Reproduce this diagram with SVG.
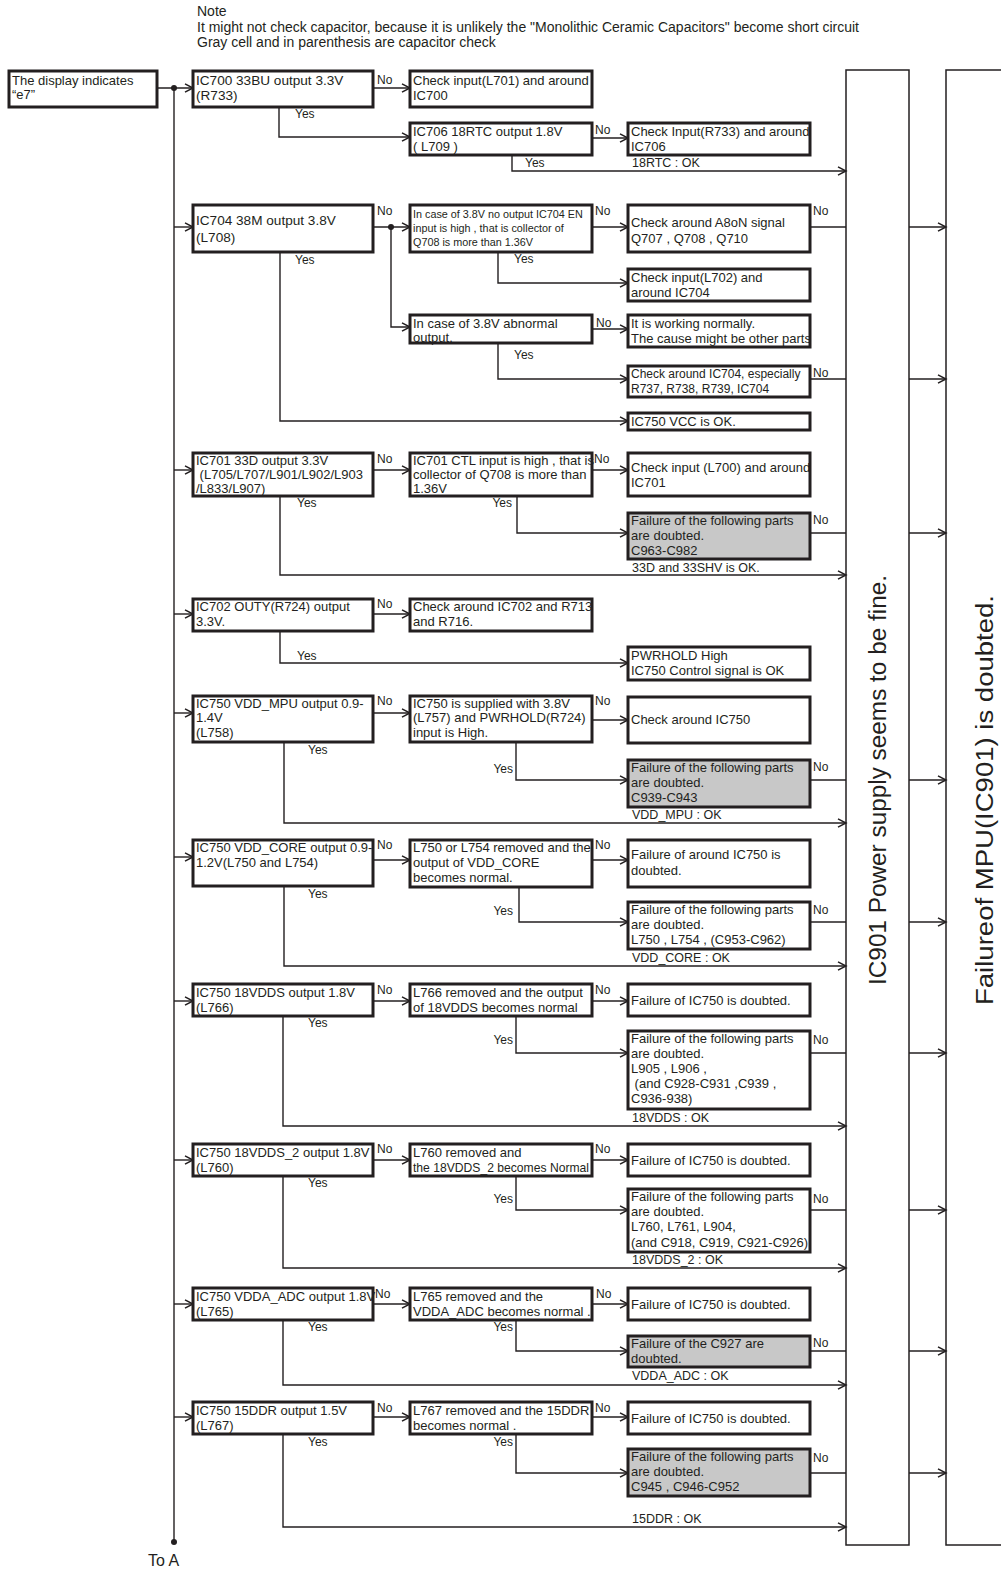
<svg xmlns="http://www.w3.org/2000/svg" width="1001" height="1570" viewBox="0 0 1001 1570">
<defs>
<style>
text{font-family:"Liberation Sans",Arial,sans-serif;fill:#231f20}
.t{font-size:13px}
.s{font-size:10.8px}
.l{font-size:12px}
.ok{font-size:12.5px}
.nt{font-size:14px}
.n{fill:#fff;stroke:#231f20;stroke-width:3}
.g{fill:#c8c8c8;stroke:#231f20;stroke-width:3}
.big{fill:#fff;stroke:#231f20;stroke-width:1.5}
.c{fill:none;stroke:#231f20;stroke-width:1.4}
.a{fill:none;stroke:#231f20;stroke-width:1.4;marker-end:url(#ah)}
.r{font-size:23px}
</style>
<marker id="ah" markerWidth="11" markerHeight="11" refX="9" refY="5" orient="auto" markerUnits="userSpaceOnUse">
<path d="M1,0.8 L9,5 L1,9.2" fill="none" stroke="#231f20" stroke-width="1.5"/>
</marker>
</defs>
<rect width="1001" height="1570" fill="#fff"/>

<g id="note">
<text class="nt" x="197" y="16">Note</text>
<text class="nt" x="197" y="32">It might not check capacitor, because it is unlikely the "Monolithic Ceramic Capacitors" become short circuit</text>
<text class="nt" x="197" y="47">Gray cell and in parenthesis are capacitor check</text>
</g>

<g id="bigbox1">
<rect class="big" x="846" y="70" width="63" height="1475"/>
<text class="r" transform="translate(886,985) rotate(-90)" textLength="410" lengthAdjust="spacingAndGlyphs">IC901  Power supply seems to be fine.</text>
</g>
<g id="bigbox2">
<rect class="big" x="946" y="70" width="60" height="1475"/>
<text class="r" transform="translate(993,1005) rotate(-90)" textLength="410" lengthAdjust="spacingAndGlyphs">Failureof MPU(IC901) is doubted.</text>
</g>

<g id="connectors">
<path class="c" d="M174,88 V1542"/>
<circle cx="174" cy="88" r="3" fill="#231f20"/>
<circle cx="174" cy="1542" r="3" fill="#231f20"/>
<path class="a" d="M157,88 H193"/>
<path class="a" d="M174,227 H193"/>
<path class="a" d="M174,470 H193"/>
<path class="a" d="M174,614 H193"/>
<path class="a" d="M174,713 H193"/>
<path class="a" d="M174,857 H193"/>
<path class="a" d="M174,1001 H193"/>
<path class="a" d="M174,1160 H193"/>
<path class="a" d="M174,1304 H193"/>
<path class="a" d="M174,1417 H193"/>

<path class="a" d="M373,88 H410"/>
<path class="a" d="M279,107 V137 H410"/>
<path class="a" d="M592,138 H628"/>
<path class="a" d="M512,155 V171 H846"/>

<path class="a" d="M373,227 H410"/>
<circle cx="391" cy="227" r="3" fill="#231f20"/>
<path class="a" d="M592,227 H628"/>
<path class="c" d="M810,227 H846"/>
<path class="a" d="M909,227 H946"/>
<path class="a" d="M498,252 V283 H628"/>
<path class="a" d="M391,227 V327 H410"/>
<path class="a" d="M592,329 H628"/>
<path class="a" d="M498,343 V379 H628"/>
<path class="c" d="M810,379 H846"/>
<path class="a" d="M909,379 H946"/>
<path class="a" d="M280,252 V421 H628"/>

<path class="a" d="M373,470 H410"/>
<path class="a" d="M592,470 H628"/>
<path class="a" d="M517,496 V533 H628"/>
<path class="c" d="M810,533 H846"/>
<path class="a" d="M909,533 H946"/>
<path class="a" d="M280,496 V575 H846"/>

<path class="a" d="M373,614 H410"/>
<path class="a" d="M280,631 V663 H628"/>

<path class="a" d="M373,713 H410"/>
<path class="a" d="M592,720 H628"/>
<path class="a" d="M516,742 V780 H628"/>
<path class="c" d="M810,780 H846"/>
<path class="a" d="M909,780 H946"/>
<path class="a" d="M284,742 V823 H846"/>

<path class="a" d="M373,860 H410"/>
<path class="a" d="M592,860 H628"/>
<path class="a" d="M519,887 V922 H628"/>
<path class="c" d="M810,922 H846"/>
<path class="a" d="M909,922 H946"/>
<path class="a" d="M284,886 V966 H846"/>

<path class="a" d="M373,1001 H410"/>
<path class="a" d="M592,1001 H628"/>
<path class="a" d="M516,1016 V1053 H628"/>
<path class="c" d="M810,1053 H846"/>
<path class="a" d="M909,1053 H946"/>
<path class="a" d="M283,1016 V1126 H846"/>

<path class="a" d="M373,1160 H410"/>
<path class="a" d="M592,1160 H628"/>
<path class="a" d="M516,1176 V1210 H628"/>
<path class="c" d="M810,1210 H846"/>
<path class="a" d="M909,1210 H946"/>
<path class="a" d="M283,1176 V1268 H846"/>

<path class="a" d="M373,1304 H410"/>
<path class="a" d="M592,1304 H628"/>
<path class="a" d="M516,1320 V1351 H628"/>
<path class="c" d="M810,1351 H846"/>
<path class="a" d="M909,1351 H946"/>
<path class="a" d="M283,1320 V1385 H846"/>

<path class="a" d="M373,1417 H410"/>
<path class="a" d="M592,1417 H628"/>
<path class="a" d="M516,1434 V1473 H628"/>
<path class="c" d="M810,1473 H846"/>
<path class="a" d="M909,1473 H946"/>
<path class="a" d="M283,1434 V1527 H846"/>

<g id="labels" class="l">
<text x="377" y="84">No</text>
<text x="295" y="118">Yes</text>
<text x="595" y="134">No</text>
<text x="525" y="167">Yes</text>
<text class="ok" x="632" y="167">18RTC : OK</text>

<text x="377" y="215">No</text>
<text x="595" y="215">No</text>
<text x="813" y="215">No</text>
<text x="295" y="264">Yes</text>
<text x="514" y="263">Yes</text>
<text x="596" y="327">No</text>
<text x="514" y="359">Yes</text>
<text x="813" y="377">No</text>

<text x="377" y="463">No</text>
<text x="594" y="463">No</text>
<text x="297" y="507">Yes</text>
<text x="512" y="507" text-anchor="end">Yes</text>
<text x="813" y="524">No</text>
<text class="ok" x="632" y="572">33D and 33SHV is OK.</text>

<text x="377" y="608">No</text>
<text x="297" y="660">Yes</text>

<text x="377" y="705">No</text>
<text x="595" y="705">No</text>
<text x="308" y="754">Yes</text>
<text x="513" y="773" text-anchor="end">Yes</text>
<text x="813" y="771">No</text>
<text class="ok" x="632" y="819">VDD_MPU : OK</text>

<text x="377" y="849">No</text>
<text x="595" y="849">No</text>
<text x="308" y="898">Yes</text>
<text x="513" y="915" text-anchor="end">Yes</text>
<text x="813" y="914">No</text>
<text class="ok" x="632" y="962">VDD_CORE : OK</text>

<text x="377" y="994">No</text>
<text x="595" y="994">No</text>
<text x="308" y="1027">Yes</text>
<text x="513" y="1044" text-anchor="end">Yes</text>
<text x="813" y="1044">No</text>
<text class="ok" x="632" y="1122">18VDDS : OK</text>

<text x="377" y="1153">No</text>
<text x="595" y="1153">No</text>
<text x="308" y="1187">Yes</text>
<text x="513" y="1203" text-anchor="end">Yes</text>
<text x="813" y="1203">No</text>
<text class="ok" x="632" y="1264">18VDDS_2 : OK</text>

<text x="375" y="1298">No</text>
<text x="596" y="1298">No</text>
<text x="308" y="1331">Yes</text>
<text x="513" y="1331" text-anchor="end">Yes</text>
<text x="813" y="1347">No</text>
<text class="ok" x="632" y="1380">VDDA_ADC : OK</text>

<text x="377" y="1412">No</text>
<text x="595" y="1412">No</text>
<text x="308" y="1446">Yes</text>
<text x="513" y="1446" text-anchor="end">Yes</text>
<text x="813" y="1462">No</text>
<text class="ok" x="632" y="1523">15DDR : OK</text>
</g>
<text x="148" y="1566" style="font-size:16px">To A</text>
</g>

<g id="start"><rect class="n" x="9" y="71" width="148" height="36"/><text class="t"><tspan x="12" y="85">The display indicates</tspan><tspan x="12" y="99">“e7”</tspan></text></g>

<g id="ic700"><rect class="n" x="193" y="71" width="180" height="36"/><text class="t" style="font-size:13.6px"><tspan x="196" y="85">IC700 33BU output 3.3V</tspan><tspan x="196" y="100">(R733)</tspan></text></g>
<g id="chk701"><rect class="n" x="410" y="71" width="182" height="36"/><text class="t"><tspan x="413" y="85">Check input(L701) and around</tspan><tspan x="413" y="100">IC700</tspan></text></g>
<g id="ic706"><rect class="n" x="410" y="123" width="182" height="32"/><text class="t"><tspan x="413" y="136">IC706 18RTC output 1.8V</tspan><tspan x="413" y="151">( L709 )</tspan></text></g>
<g id="chk733"><rect class="n" x="628" y="123" width="182" height="32"/><text class="t"><tspan x="631" y="136">Check Input(R733) and around</tspan><tspan x="631" y="151">IC706</tspan></text></g>

<g id="ic704"><rect class="n" x="193" y="205" width="180" height="47"/><text class="t" style="font-size:13.6px"><tspan x="196" y="225">IC704 38M output 3.8V</tspan><tspan x="196" y="242">(L708)</tspan></text></g>
<g id="en704"><rect class="n" x="410" y="205" width="182" height="47"/><text class="s"><tspan x="413" y="218">In case of 3.8V no output IC704 EN</tspan><tspan x="413" y="232">input is high , that is collector of</tspan><tspan x="413" y="246">Q708 is more than 1.36V</tspan></text></g>
<g id="a8on"><rect class="n" x="628" y="205" width="182" height="47"/><text class="t"><tspan x="631" y="227">Check around A8oN signal</tspan><tspan x="631" y="243">Q707 , Q708 , Q710</tspan></text></g>
<g id="chk702"><rect class="n" x="628" y="269" width="182" height="32"/><text class="t"><tspan x="631" y="282">Check input(L702) and</tspan><tspan x="631" y="297">around IC704</tspan></text></g>
<g id="abn704"><rect class="n" x="410" y="315" width="182" height="28"/><text class="t"><tspan x="413" y="328">In case of 3.8V abnormal</tspan><tspan x="413" y="342">output.</tspan></text></g>
<g id="normal"><rect class="n" x="628" y="315" width="182" height="32"/><text class="t"><tspan x="631" y="328">It is working normally.</tspan><tspan x="631" y="343">The cause might be other parts</tspan></text></g>
<g id="r737"><rect class="n" x="628" y="366" width="182" height="31"/><text class="t" style="font-size:12px"><tspan x="631" y="378">Check around IC704, especially</tspan><tspan x="631" y="393">R737, R738, R739, IC704</tspan></text></g>
<g id="vcc"><rect class="n" x="628" y="413" width="182" height="17"/><text class="t"><tspan x="631" y="426">IC750 VCC is OK.</tspan></text></g>

<g id="ic701"><rect class="n" x="193" y="453" width="180" height="43"/><text class="t"><tspan x="196" y="465">IC701 33D output 3.3V</tspan><tspan x="196" y="479"> (L705/L707/L901/L902/L903</tspan><tspan x="196" y="493">/L833/L907)</tspan></text></g>
<g id="ctl701"><rect class="n" x="410" y="453" width="182" height="43"/><text class="t"><tspan x="413" y="465">IC701 CTL input is high , that is</tspan><tspan x="413" y="479">collector of Q708 is more than</tspan><tspan x="413" y="493">1.36V</tspan></text></g>
<g id="chk700"><rect class="n" x="628" y="453" width="182" height="43"/><text class="t"><tspan x="631" y="472">Check input (L700) and around</tspan><tspan x="631" y="487">IC701</tspan></text></g>
<g id="c963"><rect class="g" x="628" y="513" width="182" height="46"/><text class="t"><tspan x="631" y="525">Failure of the following parts</tspan><tspan x="631" y="540">are doubted.</tspan><tspan x="631" y="555">C963-C982</tspan></text></g>

<g id="ic702"><rect class="n" x="193" y="599" width="180" height="32"/><text class="t"><tspan x="196" y="611">IC702 OUTY(R724) output</tspan><tspan x="196" y="626">3.3V.</tspan></text></g>
<g id="chk713"><rect class="n" x="410" y="599" width="182" height="32"/><text class="t"><tspan x="413" y="611">Check around IC702 and R713</tspan><tspan x="413" y="626">and R716.</tspan></text></g>
<g id="pwrhold"><rect class="n" x="628" y="647" width="182" height="33"/><text class="t"><tspan x="631" y="660">PWRHOLD High</tspan><tspan x="631" y="675">IC750 Control signal is OK</tspan></text></g>

<g id="mpu"><rect class="n" x="193" y="696" width="180" height="46"/><text class="t"><tspan x="196" y="708">IC750 VDD_MPU output 0.9-</tspan><tspan x="196" y="722">1.4V</tspan><tspan x="196" y="737">(L758)</tspan></text></g>
<g id="sup750"><rect class="n" x="410" y="696" width="182" height="46"/><text class="t"><tspan x="413" y="708">IC750 is supplied with 3.8V</tspan><tspan x="413" y="722">(L757) and PWRHOLD(R724)</tspan><tspan x="413" y="737">input is High.</tspan></text></g>
<g id="chk750"><rect class="n" x="628" y="697" width="182" height="46"/><text class="t"><tspan x="631" y="724">Check around IC750</tspan></text></g>
<g id="c939"><rect class="g" x="628" y="760" width="182" height="47"/><text class="t"><tspan x="631" y="772">Failure of the following parts</tspan><tspan x="631" y="787">are doubted.</tspan><tspan x="631" y="802">C939-C943</tspan></text></g>

<g id="core"><rect class="n" x="193" y="840" width="180" height="46"/><text class="t"><tspan x="196" y="852">IC750 VDD_CORE output 0.9-</tspan><tspan x="196" y="867">1.2V(L750 and L754)</tspan></text></g>
<g id="l750"><rect class="n" x="410" y="840" width="182" height="47"/><text class="t"><tspan x="413" y="852">L750 or L754 removed and the</tspan><tspan x="413" y="867">output of VDD_CORE</tspan><tspan x="413" y="882">becomes normal.</tspan></text></g>
<g id="fail750a"><rect class="n" x="628" y="840" width="182" height="47"/><text class="t"><tspan x="631" y="859">Failure of around IC750 is</tspan><tspan x="631" y="875">doubted.</tspan></text></g>
<g id="c953"><rect class="n" x="628" y="902" width="182" height="47"/><text class="t"><tspan x="631" y="914">Failure of the following parts</tspan><tspan x="631" y="929">are doubted.</tspan><tspan x="631" y="944">L750 , L754 , (C953-C962)</tspan></text></g>

<g id="vdds"><rect class="n" x="193" y="984" width="180" height="32"/><text class="t"><tspan x="196" y="997">IC750 18VDDS output 1.8V</tspan><tspan x="196" y="1012">(L766)</tspan></text></g>
<g id="l766"><rect class="n" x="410" y="984" width="182" height="32"/><text class="t"><tspan x="413" y="997">L766 removed and the output</tspan><tspan x="413" y="1012">of 18VDDS becomes normal</tspan></text></g>
<g id="fail750b"><rect class="n" x="628" y="984" width="182" height="32"/><text class="t"><tspan x="631" y="1005">Failure of IC750 is doubted.</tspan></text></g>
<g id="l905"><rect class="n" x="628" y="1031" width="182" height="78"/><text class="t"><tspan x="631" y="1043">Failure of the following parts</tspan><tspan x="631" y="1058">are doubted.</tspan><tspan x="631" y="1073">L905 , L906 ,</tspan><tspan x="631" y="1088"> (and C928-C931 ,C939 ,</tspan><tspan x="631" y="1103">C936-938)</tspan></text></g>

<g id="vdds2"><rect class="n" x="193" y="1144" width="180" height="32"/><text class="t"><tspan x="196" y="1157">IC750 18VDDS_2 output 1.8V</tspan><tspan x="196" y="1172">(L760)</tspan></text></g>
<g id="l760"><rect class="n" x="410" y="1144" width="182" height="32"/><text class="t"><tspan x="413" y="1157">L760 removed and</tspan><tspan x="413" y="1172" textLength="176" lengthAdjust="spacingAndGlyphs">the 18VDDS_2 becomes Normal</tspan></text></g>
<g id="fail750c"><rect class="n" x="628" y="1144" width="182" height="32"/><text class="t"><tspan x="631" y="1165">Failure of IC750 is doubted.</tspan></text></g>
<g id="l761"><rect class="n" x="628" y="1189" width="182" height="63"/><text class="t"><tspan x="631" y="1201">Failure of the following parts</tspan><tspan x="631" y="1216">are doubted.</tspan><tspan x="631" y="1231">L760, L761, L904,</tspan><tspan x="631" y="1247">(and  C918, C919, C921-C926)</tspan></text></g>

<g id="adc"><rect class="n" x="193" y="1288" width="180" height="32"/><text class="t"><tspan x="196" y="1301">IC750 VDDA_ADC output 1.8V</tspan><tspan x="196" y="1316">(L765)</tspan></text></g>
<g id="l765"><rect class="n" x="410" y="1288" width="182" height="32"/><text class="t"><tspan x="413" y="1301">L765 removed and the</tspan><tspan x="413" y="1316">VDDA_ADC becomes normal .</tspan></text></g>
<g id="fail750d"><rect class="n" x="628" y="1288" width="182" height="32"/><text class="t"><tspan x="631" y="1309">Failure of IC750 is doubted.</tspan></text></g>
<g id="c927"><rect class="g" x="628" y="1336" width="182" height="31"/><text class="t"><tspan x="631" y="1348">Failure of the C927 are</tspan><tspan x="631" y="1363">doubted.</tspan></text></g>

<g id="ddr"><rect class="n" x="193" y="1402" width="180" height="32"/><text class="t"><tspan x="196" y="1415">IC750 15DDR output 1.5V</tspan><tspan x="196" y="1430">(L767)</tspan></text></g>
<g id="l767"><rect class="n" x="410" y="1402" width="182" height="32"/><text class="t"><tspan x="413" y="1415">L767 removed and the 15DDR</tspan><tspan x="413" y="1430">becomes normal .</tspan></text></g>
<g id="fail750e"><rect class="n" x="628" y="1402" width="182" height="32"/><text class="t"><tspan x="631" y="1423">Failure of IC750 is doubted.</tspan></text></g>
<g id="c945"><rect class="g" x="628" y="1449" width="182" height="47"/><text class="t"><tspan x="631" y="1461">Failure of the following parts</tspan><tspan x="631" y="1476">are doubted.</tspan><tspan x="631" y="1491">C945 , C946-C952</tspan></text></g>
</svg>
